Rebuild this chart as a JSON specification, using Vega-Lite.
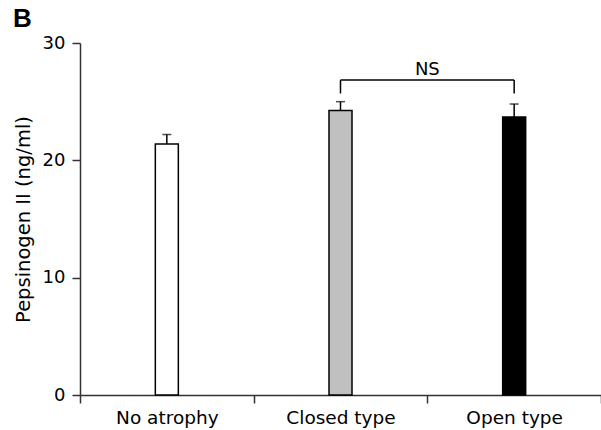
{
  "$schema": "https://vega.github.io/schema/vega-lite/v6.json",
  "width": 521,
  "height": 352,
  "autosize": {"type": "none"},
  "padding": {"left": 80, "top": 43, "right": 0, "bottom": 35},
  "background": "white",
  "config": {
    "view": {"stroke": null},
    "font": "DejaVu Sans",
    "axis": {"domainColor": "#333", "tickColor": "#333", "labelColor": "#000", "titleColor": "#000", "grid": false}
  },
  "title": {"text": "B", "font": "Liberation Sans", "fontSize": 26, "fontWeight": "bold", "anchor": "start", "frame": "bounds", "offset": 2, "color": "#000"},
  "datasets": {
    "bars": [
      {"group": "No atrophy", "mean": 21.4, "hi": 22.2, "fill": "white"},
      {"group": "Closed type", "mean": 24.25, "hi": 25.0, "fill": "#c0c0c0"},
      {"group": "Open type", "mean": 23.7, "hi": 24.8, "fill": "black"}
    ],
    "bracket": [
      {"from": "Closed type", "to": "Open type", "y": 26.85}
    ],
    "legs": [
      {"group": "Closed type", "low": 25.7, "high": 26.85},
      {"group": "Open type", "low": 25.7, "high": 26.85}
    ],
    "label": [
      {"group": "Open type", "y": 27.3, "text": "NS"}
    ]
  },
  "layer": [
    {
      "data": {"name": "bars"},
      "mark": {"type": "rule", "stroke": "black", "strokeWidth": 1.5},
      "encoding": {
        "x": {"field": "group", "type": "nominal",
          "scale": {"domain": ["No atrophy", "Closed type", "Open type"], "paddingInner": 0, "paddingOuter": 0},
          "axis": {"title": null, "labelAngle": 0, "labelFontSize": 18.5, "tickBand": "extent", "tickSize": 8, "labelPadding": 5, "domainWidth": 1.5, "tickWidth": 1.5}},
        "y": {"field": "mean", "type": "quantitative", "scale": {"domain": [0, 30], "nice": false},
          "axis": {"title": "Pepsinogen II (ng/ml)", "titleFontSize": 19.5, "titleFontWeight": "normal", "titlePadding": 9, "values": [0, 10, 20, 30], "labelFontSize": 18, "tickSize": 8, "labelPadding": 7, "domainWidth": 1.5, "tickWidth": 1.5}},
        "y2": {"field": "hi"}
      }
    },
    {
      "data": {"name": "bars"},
      "mark": {"type": "tick", "orient": "horizontal", "size": 9, "thickness": 1.5, "color": "black"},
      "encoding": {
        "x": {"field": "group", "type": "nominal"},
        "y": {"field": "hi", "type": "quantitative"}
      }
    },
    {
      "data": {"name": "bars"},
      "mark": {"type": "bar", "size": 23, "stroke": "black", "strokeWidth": 1.5},
      "encoding": {
        "x": {"field": "group", "type": "nominal"},
        "y": {"field": "mean", "type": "quantitative"},
        "fill": {"field": "fill", "type": "nominal", "scale": null, "legend": null}
      }
    },
    {
      "data": {"name": "bracket"},
      "mark": {"type": "rule", "stroke": "black", "strokeWidth": 1.5},
      "encoding": {
        "x": {"field": "from", "type": "nominal"},
        "x2": {"field": "to"},
        "y": {"field": "y", "type": "quantitative"}
      }
    },
    {
      "data": {"name": "legs"},
      "mark": {"type": "rule", "stroke": "black", "strokeWidth": 1.5},
      "encoding": {
        "x": {"field": "group", "type": "nominal"},
        "y": {"field": "low", "type": "quantitative"},
        "y2": {"field": "high"}
      }
    },
    {
      "data": {"name": "label"},
      "mark": {"type": "text", "fontSize": 18, "color": "black", "baseline": "alphabetic", "align": "center"},
      "encoding": {
        "x": {"field": "group", "type": "nominal", "bandPosition": 0},
        "y": {"field": "y", "type": "quantitative"},
        "text": {"field": "text"}
      }
    }
  ]
}
